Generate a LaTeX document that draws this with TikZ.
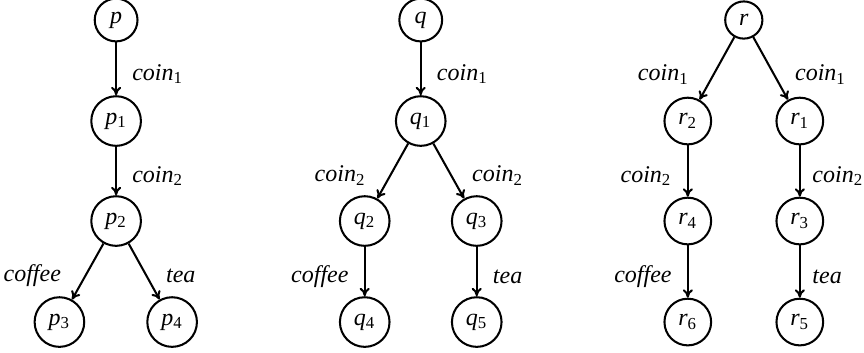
\documentclass[tikz,border=0pt]{standalone}
\usepackage{fontspec}
\setmainfont{Liberation Serif}
\usetikzlibrary{positioning}
\usetikzlibrary{arrows.meta}
\tikzset{state/.style = {draw, circle, line width = 0.85pt}}
\tikzset{move/.style = {-{To[length = 3.5pt, width = 4.2pt]}, line width = 0.85pt}}
\newcommand{\act}[2]{\textit{#1}\textsubscript{#2}}
\newcommand{\st}[2]{\textit{#1}\textsubscript{#2}}

\begin{document}
\begin{tikzpicture}
      \useasboundingbox (0, 0) rectangle (12.65, -5.154);

      % first machine
      \node (p) at (1.70, -0.293) [state] {\textit{p}};
      \node (p1) at (1.70, -1.772) [state] {\st{p}{1}};
      \node (p2) at (1.70, -3.236) [state] {\st{p}{2}};
      \node (p3) at (0.87, -4.715) [state] {\st{p}{3}};
      \node (p4) at (2.52, -4.715) [state] {\st{p}{4}};
      \draw [move] (p) -- (p1) node [pos = 0.6, right = 3pt] {\act{coin}{1}};
      \draw [move] (p1) -- (p2) node [pos = 0.6, right = 3pt] {\act{coin}{2}};
      \draw [move] (p2) -- (p3) node [pos = 0.57, left = 6.5pt] {\textit{coffee}};
      \draw [move] (p2) -- (p4) node [pos = 0.57, right = 4.5pt] {\textit{tea}};

      % second machine
      \node (q) at (6.16, -0.293) [state] {\textit{q}};
      \node (q1) at (6.16, -1.772) [state] {\st{q}{1}};
      \node (q2) at (5.34, -3.236) [state] {\st{q}{2}};
      \node (q3) at (6.98, -3.236) [state] {\st{q}{3}};
      \node (q4) at (5.34, -4.715) [state] {\st{q}{4}};
      \node (q5) at (6.98, -4.715) [state] {\st{q}{5}};
      \draw [move] (q) -- (q1) node [pos = 0.6, right = 3pt] {\act{coin}{1}};
      \draw [move] (q1) -- (q2) node [pos = 0.58, left = 6.5pt] {\act{coin}{2}};
      \draw [move] (q1) -- (q3) node [pos = 0.58, right = 5pt] {\act{coin}{2}};
      \draw [move] (q2) -- (q4) node [pos = 0.6, left = 3pt] {\textit{coffee}};
      \draw [move] (q3) -- (q5) node [pos = 0.6, right = 3pt] {\textit{tea}};

      % third machine
      \node (r) at (10.89, -0.293) [state] {\textit{r}};
      \node (r2) at (10.07, -1.772) [state] {\st{r}{2}};
      \node (r1) at (11.71, -1.772) [state] {\st{r}{1}};
      \node (r4) at (10.07, -3.236) [state] {\st{r}{4}};
      \node (r3) at (11.71, -3.236) [state] {\st{r}{3}};
      \node (r6) at (10.07, -4.715) [state] {\st{r}{6}};
      \node (r5) at (11.71, -4.715) [state] {\st{r}{5}};
      \draw [move] (r) -- (r2) node [pos = 0.6, left = 6.5pt] {\act{coin}{1}};
      \draw [move] (r) -- (r1) node [pos = 0.6, right = 5pt] {\act{coin}{1}};
      \draw [move] (r2) -- (r4) node [pos = 0.6, left = 3pt] {\act{coin}{2}};
      \draw [move] (r1) -- (r3) node [pos = 0.6, right = 1.5pt] {\act{coin}{2}};
      \draw [move] (r4) -- (r6) node [pos = 0.6, left = 3pt] {\textit{coffee}};
      \draw [move] (r3) -- (r5) node [pos = 0.6, right = 1.5pt] {\textit{tea}};
    \end{tikzpicture}
\end{document}
